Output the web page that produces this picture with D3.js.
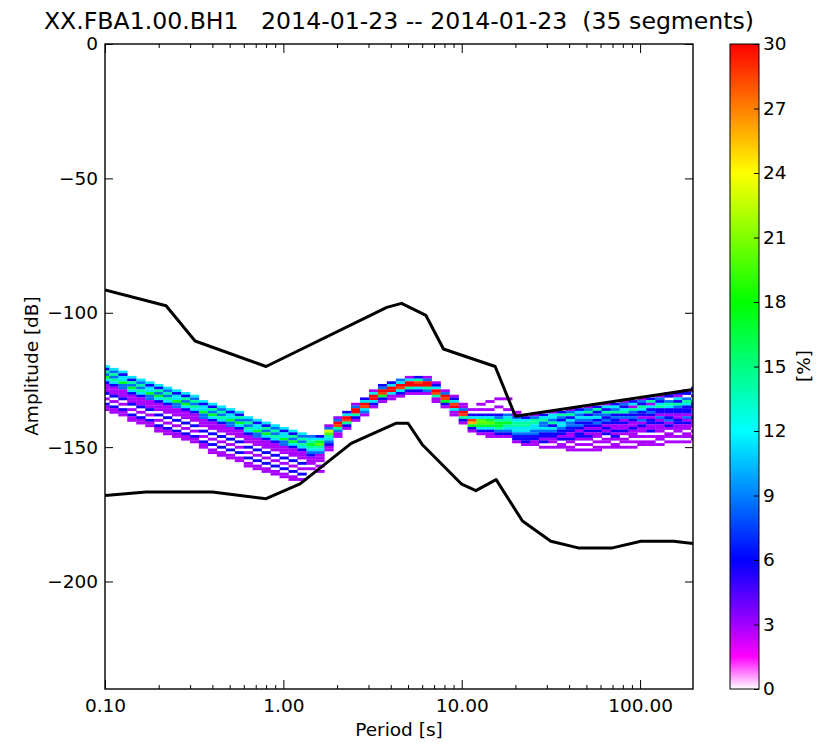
<!DOCTYPE html>
<html>
<head>
<meta charset="utf-8">
<script src="https://cdn.jsdelivr.net/npm/d3@7"></script>
<style>
body { margin: 0; background: #fff; }
text { font-family: "DejaVu Sans", sans-serif; fill: #000; }
</style>
</head>
<body>
<div id="chart"></div>
<script>

// period bin centres [s] of the histogram columns
var colPeriods = [0.100,0.112,0.126,0.141,0.159,0.178,0.200,0.224,0.252,0.283,
    0.317,0.356,0.400,0.449,0.504,0.566,0.635,0.713,0.800,0.898,
    1.01,1.13,1.27,1.43,1.60,1.80,2.02,2.26,2.54,2.85,
    3.20,3.59,4.03,4.53,5.08,5.70,6.40,7.18,8.06,9.05,
    10.2,11.4,12.8,14.4,16.1,18.1,20.3,22.8,25.6,28.7,
    32.3,36.2,40.6,45.6,51.2,57.5,64.5,72.4,81.3,91.2,
    102,115,129,145,163,182,205];

// highest dB bin of each column
var colTopDb = [-120,-121,-122,-124,-125,-126,-127,-128,-129,-130,
    -131,-133,-134,-135,-136,-137,-139,-140,-141,-142,
    -143,-144,-145,-146,-146,-142,-139,-137,-134,-132,
    -129,-127,-126,-125,-124,-124,-124,-126,-129,-131,
    -134,-136,-134,-133,-132,-132,-137,-139,-138,-138,
    -137,-137,-136,-136,-135,-135,-134,-134,-133,-133,
    -132,-132,-131,-130,-130,-129,-128];

// segment counts per 1 dB bin, going down from colTopDb (a=10, b=11, c=12)
var colCounts = [
    "42536421112010211","43535421112010211","42446331112010211","42536421112010211",
    "43535421112010211","42446331112010211","425364211102010211","435354211102010211",
    "424463311102010211","425364211102010211","435354211102010211","424463311102010211",
    "4253642111020102011","4353542111020102011","4244633111020102011","4253642111020102011",
    "4353542111020102011","4244633111020102011","4253642111020102011","4353542111020102011",
    "4244633111020102011","4253642111020102011","435354211102010201","3456543211101",
    "24675431110101","1387543211","13ba5311","24ba521","13cb521","24ba431",
    "14cb421","23ba621","24cb411","34ba421","14bb521","25ab421","13bb531","124ba511",
    "13ba621","124ab411","113ba521","1024a9621","101024776421","10010246764211",
    "100100235665321","100010345654321","113455443221",
    "24554432221","135544332211","2453343221201","14435243221101","25324432212011",
    "1352433221121011","2434323212210101","13524322121210101","25234232121101011",
    "142532321212011010","24352322112121011","132452312112101101","241532321121110101",
    "132542213121101011","251423212211201011","1324522131211101101","1203542212312101101",
    "2142532211221110101","12035422213121101101","21425322131211101011"
];
var nSegments = 35;

// noise models
var nhnmPeriods = [0.10,0.22,0.32,0.80,3.80,4.60,6.30,7.90,15.40,20.00,200];
var nhnmDb = [-91.5,-97.4,-110.5,-120.0,-98.0,-96.5,-101.0,-113.5,-120.0,-138.5,-128.5];
var nlnmPeriods = [0.10,0.17,0.40,0.80,1.24,2.40,4.30,5.00,6.00,10.0,12.0,15.6,21.9,31.6,45.0,70.0,101,154,200];
var nlnmDb = [-168.0,-166.7,-166.7,-169.2,-163.7,-148.6,-141.1,-141.1,-149.0,-163.8,-166.2,-162.1,-177.5,-185.0,-187.5,-187.5,-185.0,-185.0,-185.9];

var xTicks = [0.1, 1, 10, 100];
var xMinorTicks = [0.2,0.3,0.4,0.5,0.6,0.7,0.8,0.9,2,3,4,5,6,7,8,9,20,30,40,50,60,70,80,90];
var yTicks = [0, -50, -100, -150, -200];
var cbarTicks = [0,3,6,9,12,15,18,21,24,27,30];

// colormap (percent -> colour)
var cmapStops = [0, 1.5, 3, 6, 9, 12, 15, 18, 21, 24, 27, 30];
var cmapColors = ["#ffffff","#ff00ff","#a000ff","#0000ff","#0080ff","#00ffff",
    "#00ff80","#00ff00","#80ff00","#ffff00","#ff8000","#ff0000"];

var width = 825, height = 744;
var svg = d3.select("#chart").append("svg")
    .attr("width", width)
    .attr("height", height);

var x = d3.scaleLog().domain([0.1, 198]).range([105, 693]);
var y = d3.scaleLinear().domain([-240, 0]).range([689, 44]);
var color = d3.scaleLinear().domain(cmapStops).range(cmapColors).clamp(true);

svg.append("clipPath").attr("id", "plotclip")
  .append("rect")
    .attr("x", 105).attr("y", 44)
    .attr("width", 588).attr("height", 645);

// histogram cells
var cells = [];
colPeriods.forEach(function(p, i) {
    var n = colPeriods.length;
    var lo = i > 0 ? Math.sqrt(colPeriods[i-1] * p) : p * p / Math.sqrt(p * colPeriods[i+1]);
    var hi = i < n - 1 ? Math.sqrt(p * colPeriods[i+1]) : p * p / Math.sqrt(colPeriods[i-1] * p);
    colCounts[i].split("").forEach(function(ch, j) {
        var c = parseInt(ch, 36);
        if (c > 0) cells.push({lo: lo, hi: hi, db: colTopDb[i] - j, pct: c / nSegments * 100});
    });
});

var plot = svg.append("g").attr("clip-path", "url(#plotclip)");

plot.selectAll("rect.cell")
    .data(cells)
    .enter()
    .append("rect")
        .attr("class", "cell")
        .attr("x", function(d) { return x(d.lo); })
        .attr("width", function(d) { return x(d.hi) - x(d.lo) + 0.3; })
        .attr("y", function(d) { return y(d.db + 0.5); })
        .attr("height", function(d) { return y(d.db - 0.5) - y(d.db + 0.5) + 0.2; })
        .attr("fill", function(d) { return color(d.pct); });

var line = d3.line()
    .x(function(d) { return x(d[0]); })
    .y(function(d) { return y(d[1]); });

[[nhnmPeriods, nhnmDb], [nlnmPeriods, nlnmDb]].forEach(function(m) {
    plot.append("path")
        .datum(d3.zip(m[0], m[1]))
        .attr("fill", "none")
        .attr("stroke", "#000")
        .attr("stroke-width", 3)
        .attr("stroke-linejoin", "round")
        .attr("d", line);
});

// axes, ticks pointing inward on all four sides
function styleAxis(g) {
    g.select(".domain").remove();
    g.selectAll(".tick line").attr("stroke", "#000").attr("stroke-width", 1);
    g.selectAll("text").attr("font-size", "18.5px").attr("font-family", "DejaVu Sans");
}
var minusFmt = function(d) { return d < 0 ? "\u2212" + Math.abs(d) : d; };

svg.append("g").attr("transform", "translate(0,689)")
    .call(d3.axisBottom(x).tickValues(xTicks).tickSizeInner(-9).tickSizeOuter(0)
        .tickPadding(10).tickFormat(d3.format(".2f")))
    .call(styleAxis);
svg.append("g").attr("transform", "translate(0,689)")
    .call(d3.axisBottom(x).tickValues(xMinorTicks).tickSizeInner(-4).tickSizeOuter(0).tickFormat(""))
    .call(styleAxis);
svg.append("g").attr("transform", "translate(0,44)")
    .call(d3.axisTop(x).tickValues(xTicks).tickSizeInner(-9).tickSizeOuter(0).tickFormat(""))
    .call(styleAxis);
svg.append("g").attr("transform", "translate(0,44)")
    .call(d3.axisTop(x).tickValues(xMinorTicks).tickSizeInner(-4).tickSizeOuter(0).tickFormat(""))
    .call(styleAxis);
svg.append("g").attr("transform", "translate(105,0)")
    .call(d3.axisLeft(y).tickValues(yTicks).tickSizeInner(-8).tickSizeOuter(0)
        .tickPadding(7).tickFormat(minusFmt))
    .call(styleAxis);
svg.append("g").attr("transform", "translate(693,0)")
    .call(d3.axisRight(y).tickValues(yTicks).tickSizeInner(-8).tickSizeOuter(0).tickFormat(""))
    .call(styleAxis);

svg.append("rect")
    .attr("x", 105).attr("y", 44)
    .attr("width", 588).attr("height", 645)
    .attr("fill", "none")
    .attr("stroke", "#000")
    .attr("stroke-width", 1.4);

// titles
svg.append("text")
    .attr("x", 399).attr("y", 29)
    .attr("text-anchor", "middle")
    .attr("font-size", "23.6px")
    .style("white-space", "pre")
    .text("XX.FBA1.00.BH1   2014-01-23 -- 2014-01-23  (35 segments)");

svg.append("text")
    .attr("x", 399).attr("y", 736)
    .attr("text-anchor", "middle")
    .attr("font-size", "18.5px")
    .text("Period [s]");

svg.append("text")
    .attr("transform", "translate(38,366) rotate(-90)")
    .attr("text-anchor", "middle")
    .attr("font-size", "18.5px")
    .text("Amplitude [dB]");

// colorbar
var cb = d3.scaleLinear().domain([0, 30]).range([689, 44]);
var grad = svg.append("defs").append("linearGradient")
    .attr("id", "cmap")
    .attr("x1", 0).attr("y1", 1).attr("x2", 0).attr("y2", 0);
grad.selectAll("stop")
    .data(cmapStops)
    .enter()
    .append("stop")
        .attr("offset", function(d) { return d / 30; })
        .attr("stop-color", function(d, i) { return cmapColors[i]; });

svg.append("rect")
    .attr("x", 730).attr("y", 44)
    .attr("width", 29).attr("height", 645)
    .attr("fill", "url(#cmap)")
    .attr("stroke", "#000")
    .attr("stroke-width", 1);

svg.append("g").attr("transform", "translate(759,0)")
    .call(d3.axisRight(cb).tickValues(cbarTicks).tickSizeInner(-5).tickSizeOuter(0).tickPadding(4))
    .call(styleAxis);

svg.append("text")
    .attr("transform", "translate(810,366) rotate(-90)")
    .attr("text-anchor", "middle")
    .attr("font-size", "18.5px")
    .text("[%]");

</script>
</body>
</html>
